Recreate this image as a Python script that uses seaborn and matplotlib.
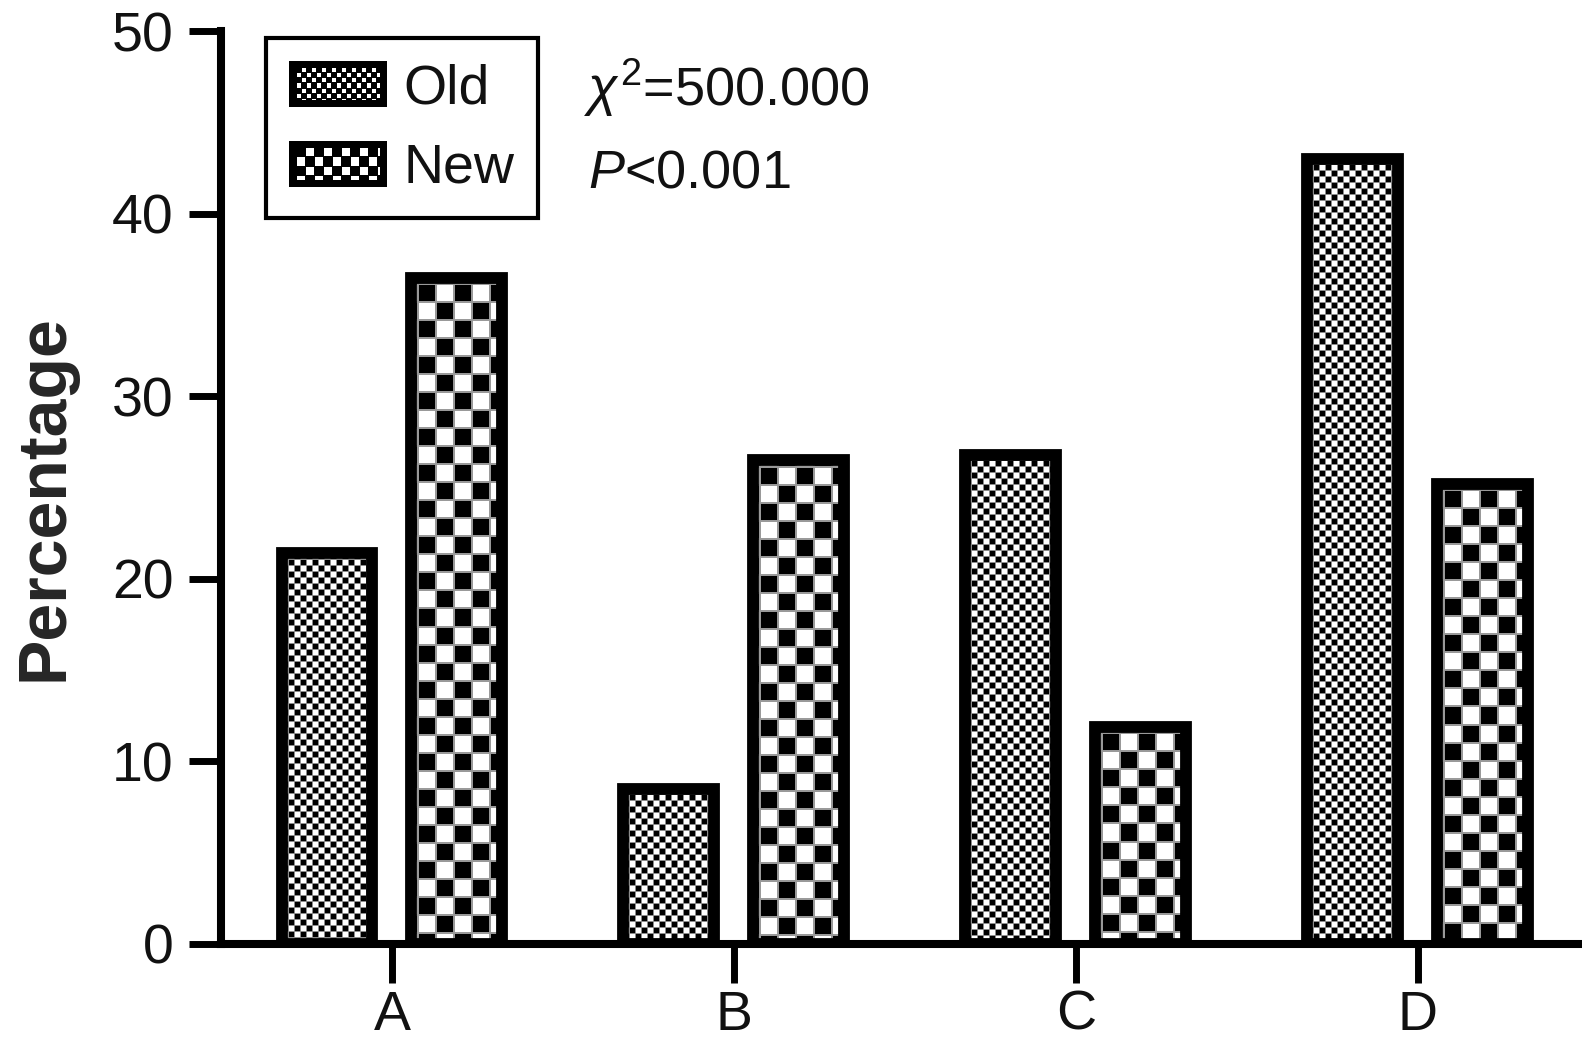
import numpy as np
import pandas as pd
import matplotlib
matplotlib.use("Agg")
import matplotlib.pyplot as plt
import seaborn as sns
from matplotlib.legend_handler import HandlerBase
from matplotlib.image import BboxImage
from matplotlib.transforms import Bbox, TransformedBbox
from matplotlib.patches import Rectangle
from matplotlib.colors import Normalize

# ---------------- data ----------------
categories = ["A", "B", "C", "D"]
groups = ["Old", "New"]
old_values = [21.4, 8.5, 26.8, 43.0]
new_values = [36.5, 26.5, 11.9, 25.2]
yticks = [0, 10, 20, 30, 40, 50]
ylabel = "Percentage"
stat_line1 = r"$\chi^2$=500.000"
stat_line2 = r"$P$<0.001"

df = pd.DataFrame({
    "cat": categories * 2,
    "group": ["Old"] * len(categories) + ["New"] * len(categories),
    "value": old_values + new_values,
})

# ---------------- style ----------------
sns.set_theme(style="white")
plt.rcParams["font.family"] = ["Liberation Sans", "DejaVu Sans"]
plt.rcParams["mathtext.fontset"] = "custom"
plt.rcParams["mathtext.rm"] = "Liberation Sans"
plt.rcParams["mathtext.it"] = "Liberation Sans:italic"
plt.rcParams["mathtext.bf"] = "Liberation Sans:bold"

W, H = 1582, 1047
fig = plt.figure(figsize=(W / 100, H / 100), dpi=100)
ax_left, ax_right, ax_top, ax_bottom = 221, 1582, 31, 944
ax = fig.add_axes([ax_left / W, 1 - ax_bottom / H, (ax_right - ax_left) / W, (ax_bottom - ax_top) / H])

EDGE_LW = 8.5  # points
sns.barplot(data=df, x="cat", y="value", hue="group", order=categories, hue_order=groups,
            palette=["white", "white"], saturation=1, width=0.76, gap=0.30,
            edgecolor="black", linewidth=EDGE_LW, errorbar=None, legend=False, ax=ax)

ax.set_xlim(-0.5, len(categories) - 0.52)
ax.set_ylim(0, 50)
ax.set_yticks(yticks)
ax.set_xlabel("")
ax.set_ylabel(ylabel, fontsize=49, fontweight="bold")
ax.yaxis.set_label_coords(-0.106, 0.489)

for s in ["top", "right"]:
    ax.spines[s].set_visible(False)
for s in ["left", "bottom"]:
    ax.spines[s].set_linewidth(5.8)
    ax.spines[s].set_color("black")
ax.spines["bottom"].set_zorder(4)
ax.tick_params(axis="y", direction="out", length=23, width=5, pad=11, labelsize=40,
               left=True, colors="black")
ax.tick_params(axis="x", direction="out", length=28, width=5, pad=5, labelsize=40,
               bottom=True, colors="black")
for lab in ax.get_xticklabels() + ax.get_yticklabels():
    lab.set_color("#111111")


# ---------------- textures ----------------
def checker(h, w, cell, line, offx, offy, grey=0.6):
    yy, xx = np.mgrid[0:h, 0:w]
    yy = yy - offy
    xx = xx - offx
    arr = (((xx // cell) + (yy // cell)) % 2).astype(float)
    grid = ((yy % cell) < line) | ((xx % cell) < line)
    arr[grid] = grey
    return arr


OLD_CELL, NEW_CELL = 6, 18
half_lw_px = EDGE_LW * 100 / 72 / 2

fig.canvas.draw()
for p in list(ax.patches):
    x0, w, h = p.get_x(), p.get_width(), p.get_height()
    if h <= 0:
        continue
    center = x0 + w / 2
    is_old = center < round(center)
    (px0, py0), (px1, py1) = ax.transData.transform([(x0, 0), (x0 + w, h)])
    wpx = max(int(round(abs(px1 - px0))), 1)
    hpx = max(int(round(abs(py1 - py0))), 1)
    off = int(round(half_lw_px))
    if is_old:
        tex = checker(hpx, wpx, OLD_CELL, 1, off, off, grey=0.55)
    else:
        tex = checker(hpx, wpx, NEW_CELL, 2, off, off, grey=0.6)
    im = ax.imshow(tex, extent=(x0, x0 + w, 0, h), origin="upper", cmap="gray",
                   vmin=0, vmax=1, interpolation="nearest", aspect="auto", zorder=2)
    im.set_clip_path(p)
    p.set_facecolor("none")
    p.set_zorder(3)

ax.set_xlim(-0.5, len(categories) - 0.52)
ax.set_ylim(0, 50)
ax.set_aspect("auto")


# ---------------- legend ----------------
class TextureHandler(HandlerBase):
    def __init__(self, cell, line, grey):
        super().__init__()
        self.cell, self.line, self.grey = cell, line, grey

    def create_artists(self, legend, orig_handle, xdescent, ydescent, width, height,
                       fontsize, trans):
        bg = Rectangle((-xdescent, -ydescent), width, height, facecolor="black",
                       edgecolor="black", lw=0, transform=trans)
        inset = 5.0
        bb = Bbox.from_bounds(-xdescent + inset, -ydescent + inset,
                              width - 2 * inset, height - 2 * inset)
        tbb = TransformedBbox(bb, trans)
        im = BboxImage(tbb, cmap="gray", norm=Normalize(0, 1), interpolation="nearest")
        pw = int(round((width - 2 * inset) * 100 / 72))
        ph = int(round((height - 2 * inset) * 100 / 72))
        tex = checker(ph, pw, self.cell, self.line, 0, 0, grey=self.grey)
        tex[tex < 0.9] = 0.0
        im.set_data(tex)
        return [bg, im]


h_old = Rectangle((0, 0), 1, 1)
h_new = Rectangle((0, 0), 1, 1)
leg = ax.legend([h_old, h_new], groups, loc="upper left",
                bbox_to_anchor=((266 - ax_left) / (ax_right - ax_left), (ax_bottom - 38) / (ax_bottom - ax_top)),
                borderaxespad=0, fontsize=40, handlelength=1.76, handleheight=0.9,
                handletextpad=0.3, borderpad=0.42, labelspacing=0.45, fancybox=False,
                framealpha=1, edgecolor="black",
                handler_map={h_old: TextureHandler(5, 1, 0.5), h_new: TextureHandler(9, 1, 0.5)})
leg.get_frame().set_linewidth(3)
for t in leg.get_texts():
    t.set_color("#111111")

# ---------------- statistics text ----------------
fig.text(584 / W, 1 - 106 / H, stat_line1, fontsize=39, ha="left", va="baseline", color="#111111")
fig.text(588 / W, 1 - 188 / H, stat_line2, fontsize=39, ha="left", va="baseline", color="#111111")

fig.savefig("out.png", dpi=100)
